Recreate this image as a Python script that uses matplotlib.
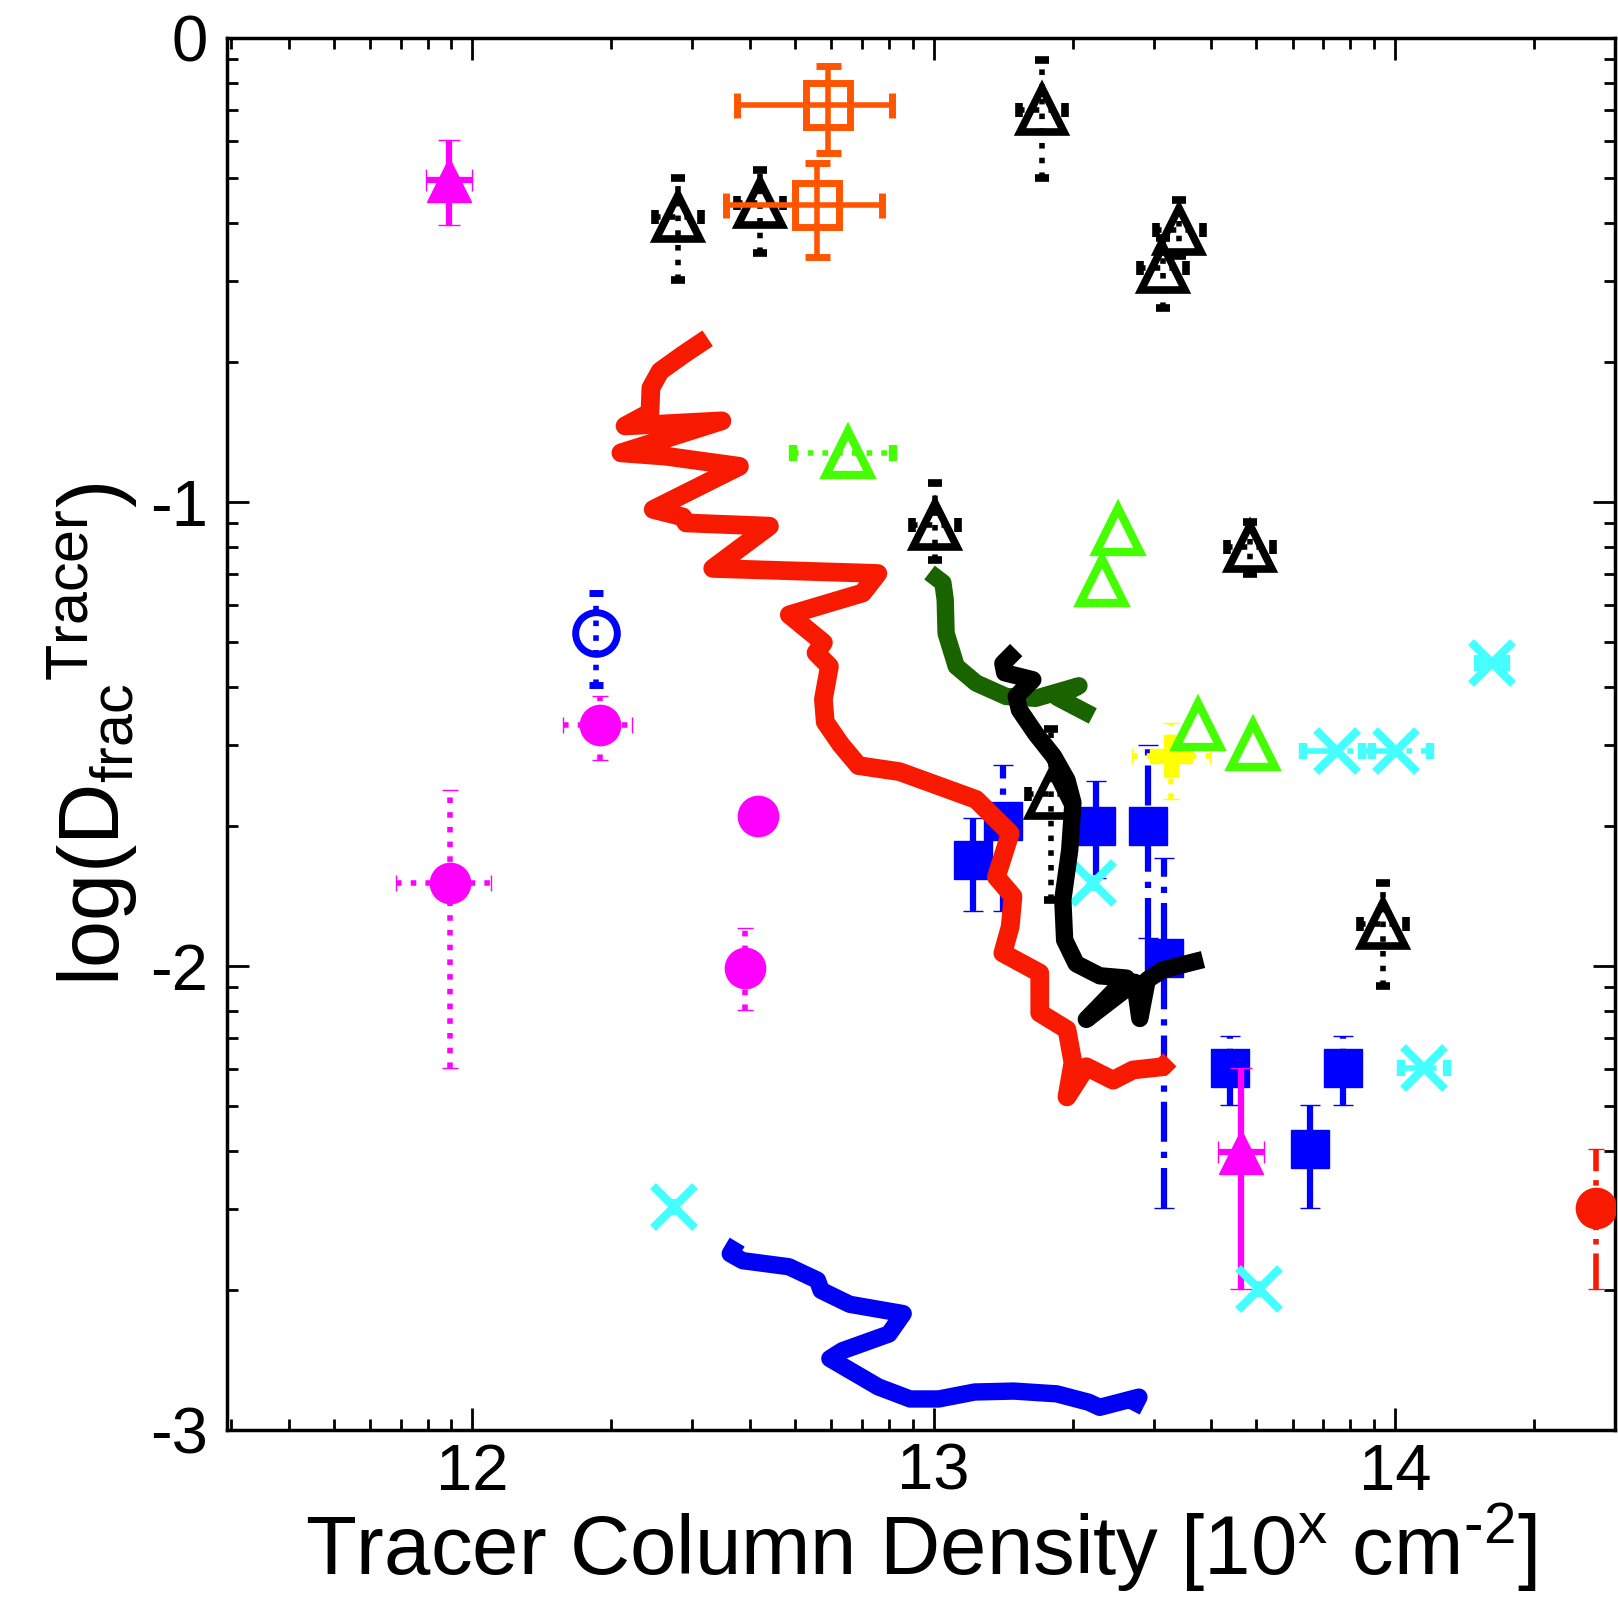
from matplotlib import pyplot as plt
import numpy as np

plt.rcParams['font.family'] = ['Liberation Sans', 'DejaVu Sans']
plt.rcParams['mathtext.fontset'] = 'custom'
plt.rcParams['mathtext.rm'] = 'Liberation Sans'
plt.rcParams['mathtext.it'] = 'Liberation Sans:italic'
plt.rcParams['mathtext.bf'] = 'Liberation Sans:bold'
plt.rcParams['axes.unicode_minus'] = False

### - Data (x = log10 column density, y = log10 D_frac)

# black open triangles, dotted errors
blk_tri_x = [12.445, 12.624, 13.234, 13.533, 13.497, 13.002, 13.685, 13.255, 13.975]
blk_tri_y = [-0.385, -0.356, -0.155, -0.413, -0.496, -1.049, -1.096, -1.630, -1.910]
blk_tri_ylo = [-0.521, -0.464, -0.302, -0.470, -0.582, -1.124, -1.156, -1.857, -2.044]
blk_tri_yhi = [-0.302, -0.284, -0.047, -0.349, -0.430, -0.959, -1.042, -1.490, -1.821]

# green open triangles
grn_tri_x = [13.400, 13.364, 13.573, 13.693]
grn_tri_y = [-1.060, -1.171, -1.480, -1.523]
grn_err_x = [12.814]
grn_err_y = [-0.895]
grn_err_xlo = [12.695]
grn_err_xhi = [12.912]

# orange open squares
org_sq_x = [12.770, 12.747]
org_sq_y = [-0.144, -0.359]
org_sq_xlo = [12.573, 12.550]
org_sq_xhi = [12.910, 12.887]
org_sq_ylo = [-0.248, -0.471]
org_sq_yhi = [-0.061, -0.269]

# magenta triangles, solid errors
mag_tri_x = [11.950, 13.667]
mag_tri_y = [-0.306, -2.400]
mag_tri_ylo = [-0.403, -2.697]
mag_tri_yhi = [-0.219, -2.219]

# magenta filled circles, dotted errors
mag_circ_x = [12.276, 11.951, 12.619, 12.590]
mag_circ_y = [-1.480, -1.821, -1.677, -2.004]
mag_circ_xlo = [12.196, 11.835, 12.600, 12.575]
mag_circ_xhi = [12.345, 12.041, 12.640, 12.605]
mag_circ_ylo = [-1.555, -2.219, -1.700, -2.094]
mag_circ_yhi = [-1.419, -1.620, -1.655, -1.918]

# blue open circle
blu_circ_x = [12.269]
blu_circ_y = [-1.282]
blu_circ_ylo = [-1.394]
blu_circ_yhi = [-1.196]

# blue filled squares, dash-dot errors
blu_sq_x = [13.150, 13.085, 13.352, 13.464, 13.499, 13.642, 13.887, 13.817]
blu_sq_y = [-1.688, -1.771, -1.699, -1.699, -1.983, -2.220, -2.220, -2.395]
blu_sq_ylo = [-1.882, -1.882, -1.810, -1.940, -2.522, -2.299, -2.299, -2.522]
blu_sq_yhi = [-1.566, -1.680, -1.602, -1.523, -1.767, -2.151, -2.151, -2.299]

# cyan crosses
cyn_x = [14.211, 13.875, 14.002, 13.345, 14.064, 12.436, 13.705]
cyn_y = [-1.347, -1.537, -1.537, -1.821, -2.220, -2.519, -2.697]
cyn_xerr = [0.03, 0.075, 0.073, 0.0, 0.05, 0.0, 0.0]

# yellow plus
yel_x = [13.515]
yel_y = [-1.548]
yel_xlo = [13.430]
yel_xhi = [13.600]
yel_ylo = [-1.641]
yel_yhi = [-1.476]

# red filled circle
red_circ_x = [14.436]
red_circ_y = [-2.522]
red_circ_ylo = [-2.697]
red_circ_yhi = [-2.395]

# model tracks
red_track_x = [12.510, 12.456, 12.407, 12.387, 12.385, 12.331, 12.541, 12.322, 12.418, 12.579,
               12.392, 12.456, 12.463, 12.644, 12.521, 12.879, 12.846, 12.687, 12.761, 12.745,
               12.774, 12.761, 12.765, 12.799, 12.837, 12.926, 13.092, 13.166, 13.136, 13.172,
               13.166, 13.150, 13.230, 13.230, 13.289, 13.302, 13.289, 13.331, 13.389, 13.432,
               13.497, 13.512]
red_track_y = [-0.647, -0.683, -0.718, -0.754, -0.807, -0.836, -0.825, -0.894, -0.901, -0.923,
               -1.016, -1.032, -1.045, -1.052, -1.143, -1.154, -1.196, -1.243, -1.303, -1.325,
               -1.354, -1.425, -1.474, -1.523, -1.568, -1.581, -1.641, -1.714, -1.808, -1.850,
               -1.915, -1.972, -2.015, -2.101, -2.137, -2.208, -2.282, -2.217, -2.246, -2.224,
               -2.217, -2.202]

grn_track_x = [12.991, 13.020, 13.025, 13.027, 13.049, 13.092, 13.157, 13.221, 13.315, 13.268, 13.345]
grn_track_y = [-1.152, -1.174, -1.210, -1.283, -1.354, -1.390, -1.419, -1.423, -1.396, -1.421, -1.461]

blk_track_x = [13.179, 13.150, 13.154, 13.215, 13.179, 13.186, 13.221, 13.260, 13.289, 13.302,
               13.295, 13.280, 13.284, 13.309, 13.360, 13.418, 13.331, 13.436, 13.447, 13.463,
               13.497, 13.584]
blk_track_y = [-1.319, -1.348, -1.368, -1.383, -1.419, -1.448, -1.499, -1.548, -1.599, -1.648,
               -1.750, -1.857, -1.944, -1.995, -2.021, -2.026, -2.115, -2.035, -2.113, -2.030,
               -2.008, -1.986]

blu_track_x = [12.574, 12.559, 12.586, 12.686, 12.748, 12.756, 12.818, 12.934, 12.903, 12.802,
               12.775, 12.818, 12.880, 12.949, 13.011, 13.089, 13.174, 13.267, 13.336, 13.360,
               13.445, 13.430]
blu_track_y = [-2.595, -2.620, -2.635, -2.648, -2.677, -2.699, -2.729, -2.749, -2.793, -2.829,
               -2.846, -2.871, -2.907, -2.933, -2.933, -2.918, -2.916, -2.922, -2.940, -2.951,
               -2.929, -2.958]


### - Helper Functions

def AsymErr(centre, low, high):
    # turn absolute bounds into the [below, above] form errorbar wants
    centre = np.asarray(centre)
    return np.vstack([centre - np.asarray(low), np.asarray(high) - centre])


def ErrSeries(ax, x, y, xerr=None, yerr=None, marker='o', colour='k', ms=28, filled=True,
              ls='-', elw=4, cap=7, mew=5, z=3):
    eb = ax.errorbar(x, y, xerr=xerr, yerr=yerr, fmt=marker, color=colour, ms=ms,
                     mfc=colour if filled else 'none', mec=colour, mew=mew,
                     ecolor=colour, elinewidth=elw, capsize=cap, capthick=elw, zorder=z)
    for bar in eb[2]:
        bar.set_linestyle(ls)      # IDL-ish dotted / dash-dot bars
    return eb


def Track(ax, x, y, colour, lw=12.5, z=8):
    ax.plot(x, y, c=colour, lw=lw, solid_joinstyle='round', solid_capstyle='butt', zorder=z)


### - Figure

fig = plt.figure(figsize=(16.18, 15.98), dpi=100)
ax = fig.add_axes([0.1403, 0.1051, 0.8578, 0.8711])

ErrSeries(ax, blk_tri_x, blk_tri_y, xerr=0.05, yerr=AsymErr(blk_tri_y, blk_tri_ylo, blk_tri_yhi),
          marker='^', colour='k', ms=31, filled=False, ls=':', elw=4, cap=5, mew=5.5, z=3)
ErrSeries(ax, blu_sq_x, blu_sq_y, yerr=AsymErr(blu_sq_y, blu_sq_ylo, blu_sq_yhi),
          marker='s', colour='#0000ff', ms=28, ls='-.', elw=4.5, cap=7, mew=1, z=3)
ErrSeries(ax, yel_x, yel_y, xerr=AsymErr(yel_x, yel_xlo, yel_xhi), yerr=AsymErr(yel_y, yel_ylo, yel_yhi),
          marker='P', colour='#ffff00', ms=30, ls=':', elw=4, cap=6, mew=1, z=3)
ErrSeries(ax, grn_err_x, grn_err_y, xerr=AsymErr(grn_err_x, grn_err_xlo, grn_err_xhi),
          marker='^', colour='#44ff00', ms=32, filled=False, ls=':', elw=4, cap=6, mew=6, z=4)
ax.plot(grn_tri_x, grn_tri_y, ls='none', marker='^', ms=32, mfc='none', mec='#44ff00', mew=6, zorder=4)
ErrSeries(ax, blu_circ_x, blu_circ_y, yerr=AsymErr(blu_circ_y, blu_circ_ylo, blu_circ_yhi),
          marker='o', colour='#0000ff', ms=30, filled=False, ls=':', elw=4, cap=5, z=4)
ErrSeries(ax, mag_circ_x, mag_circ_y, xerr=AsymErr(mag_circ_x, mag_circ_xlo, mag_circ_xhi),
          yerr=AsymErr(mag_circ_y, mag_circ_ylo, mag_circ_yhi),
          marker='o', colour='#ff00ff', ms=29, ls=':', elw=4, cap=6, mew=1, z=4)
ErrSeries(ax, org_sq_x, org_sq_y, xerr=AsymErr(org_sq_x, org_sq_xlo, org_sq_xhi),
          yerr=AsymErr(org_sq_y, org_sq_ylo, org_sq_yhi),
          marker='s', colour='#ff5500', ms=32, filled=False, ls='-', elw=4, cap=9, z=5)
ErrSeries(ax, mag_tri_x, mag_tri_y, xerr=0.05, yerr=AsymErr(mag_tri_y, mag_tri_ylo, mag_tri_yhi),
          marker='^', colour='#ff00ff', ms=32, ls='-', elw=4.5, cap=8, mew=1, z=5)
ErrSeries(ax, red_circ_x, red_circ_y, yerr=AsymErr(red_circ_y, red_circ_ylo, red_circ_yhi),
          marker='o', colour='#f81a00', ms=29, ls='-.', elw=4, cap=6, mew=1, z=5)
ErrSeries(ax, cyn_x, cyn_y, xerr=cyn_xerr, marker='x', colour='#44ffff', ms=30, ls='-.',
          elw=4, cap=6, mew=6, z=6)

# thick model tracks on top
Track(ax, grn_track_x, grn_track_y, '#1a6400', z=7)
Track(ax, blk_track_x, blk_track_y, 'k', z=8)
Track(ax, red_track_x, red_track_y, '#f81a00', lw=13.5, z=9)
Track(ax, blu_track_x, blu_track_y, '#0000f5', z=9)

# axes, log-style minor ticks in both directions
ax.set_xlim(11.468, 14.477)
ax.set_ylim(-3, 0)
ax.set_xticks([12, 13, 14])
ax.set_xticklabels(['12', '13', '14'])
ax.set_yticks([0, -1, -2, -3])
ax.set_yticklabels(['0', '-1', '-2', '-3'])
x_minor = [d + np.log10(k) for d in range(11, 15) for k in range(2, 10)]
ax.set_xticks([t for t in x_minor if 11.468 < t < 14.477], minor=True)
ax.set_yticks([d + np.log10(k) for d in (-3, -2, -1) for k in range(2, 10)], minor=True)

ax.tick_params(which='both', direction='in', top=True, right=True, width=2, labelsize=47)
ax.tick_params(which='major', length=16)
ax.tick_params(which='minor', length=8)
ax.tick_params(axis='x', pad=9)
ax.tick_params(axis='y', pad=14)
for sp in ax.spines.values():
    sp.set_linewidth(2.5)

ax.set_xlabel('Tracer Column Density [10$^{\\mathrm{x}}$ cm$^{\\mathrm{\u20102}}$]', fontsize=60)
ax.xaxis.label.set_va('baseline')
ax.xaxis.set_label_coords(0.5, -0.104)
ax.set_ylabel(r'log($\mathrm{D}_{\mathrm{frac}}{}^{\mathrm{Tracer}}$)', fontsize=61)
ax.yaxis.label.set_va('center')
ax.yaxis.set_label_coords(-0.097, 0.5)

fig.savefig('out.png', dpi=100)
